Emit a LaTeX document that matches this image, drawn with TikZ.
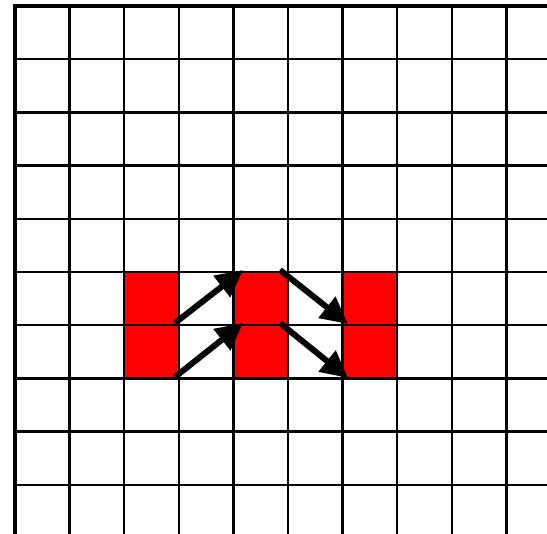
\documentclass[tikz,border=0pt]{standalone}
\usetikzlibrary{arrows.meta}
\begin{document}
\begin{tikzpicture}[x=1pt,y=-1pt,
  gridline/.style={line width=2.4pt,black},
  edgeline/.style={line width=3.4pt,black},
  redcell/.style={draw=none,fill=red,minimum width=54.6pt,minimum height=53.2pt,inner sep=0pt,outer sep=0pt},
  movearrow/.style={line width=6pt,-{Triangle[length=27pt,width=26pt]}}]
\useasboundingbox (0,0) rectangle (547,534);
\clip (0,0) rectangle (547,534);
% red cells
\foreach \c in {2,4,6}{
  \foreach \r in {5,6}{
    \node[redcell] (r\c\r) at ({15+54.6*\c+27.3},{6+53.2*\r+26.6}) {};
  }
}
% grid
\foreach \i in {1,...,10}{
  \draw[gridline] ({15+54.6*\i},6) -- ({15+54.6*\i},540);
}
\foreach \j in {1,...,10}{
  \draw[gridline] (15,{6+53.2*\j}) -- (550,{6+53.2*\j});
}
\draw[edgeline] (15,540) -- (15,6) -- (550,6);
% arrow end points
\coordinate (a1s) at (175,323);
\coordinate (a1e) at (243,270);
\coordinate (a2s) at (175,377);
\coordinate (a2e) at (243,323);
\coordinate (a3s) at (280,270);
\coordinate (a3e) at (348,324);
\coordinate (a4s) at (280,323);
\coordinate (a4e) at (348,378);
\draw[movearrow] (a1s) -- (a1e);
\draw[movearrow] (a2s) -- (a2e);
\draw[movearrow] (a3s) -- (a3e);
\draw[movearrow] (a4s) -- (a4e);
\end{tikzpicture}
\end{document}
